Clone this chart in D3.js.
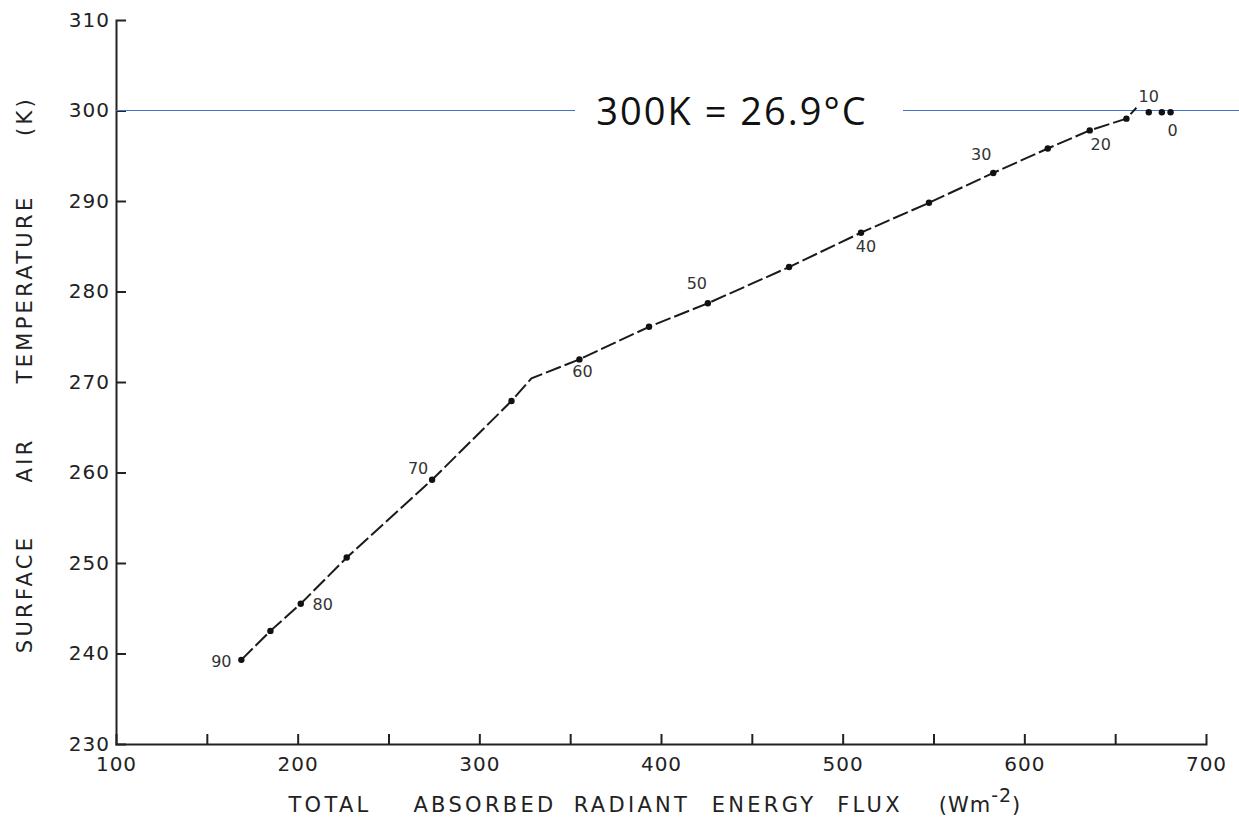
<!DOCTYPE html>
<html>
<head>
<meta charset="utf-8">
<script src="https://cdn.jsdelivr.net/npm/d3@7"></script>
<style>
  body { margin: 0; background: #fff; }
  .old { font-family: "DejaVu Sans", sans-serif; fill: #222; }
</style>
</head>
<body>
<div id="chart"></div>
<script>
// Energy flux (W m-2) and surface air temperature (K)
const curveFlux = [169, 185, 201.7, 227, 274, 317.7, 328.7, 355.1, 393.4, 425.8, 470.5, 510.1, 547.5, 582.9, 612.9, 636, 656.2, 661.7];
const curveTemp = [239.3, 242.5, 245.5, 250.6, 259.2, 267.9, 270.4, 272.5, 276.1, 278.7, 282.7, 286.5, 289.8, 293.1, 295.8, 297.8, 299.1, 300.3];

// Marked points (every 5 degrees latitude)
const pointFlux = [169, 185, 201.7, 227, 274, 317.7, 355.1, 393.4, 425.8, 470.5, 510.1, 547.5, 582.9, 612.9, 636, 656.2, 668.5, 675.7, 680.5];
const pointTemp = [239.3, 242.5, 245.5, 250.6, 259.2, 267.9, 272.5, 276.1, 278.7, 282.7, 286.5, 289.8, 293.1, 295.8, 297.8, 299.1, 299.8, 299.8, 299.8];

// Latitude labels and the point each belongs to
const latLabels = ["90", "80", "70", "60", "50", "40", "30", "20", "10", "0"];
const latFlux = [169, 201.7, 274, 355.1, 425.8, 510.1, 582.9, 636, 668.5, 680.5];
const latTemp = [239.3, 245.5, 259.2, 272.5, 278.7, 286.5, 293.1, 297.8, 299.8, 299.8];

const xTicks = [100, 150, 200, 250, 300, 350, 400, 450, 500, 550, 600, 650, 700];
const yTicks = [230, 240, 250, 260, 270, 280, 290, 300, 310];
const yTitleWords = ["SURFACE", "AIR", "TEMPERATURE", "(K)"];
const xTitleWords = ["TOTAL", "ABSORBED", "RADIANT", "ENERGY", "FLUX"];
const refTemp = 300;
const refText = "300K = 26.9°C";

const width = 1239, height = 823;

const svg = d3.select("#chart").append("svg")
    .attr("width", width)
    .attr("height", height);

const x = d3.scaleLinear().domain([100, 700]).range([116, 1206]);
const y = d3.scaleLinear().domain([230, 310]).range([744, 20]);

// x axis, ticks point up into the plot
const xAxis = svg.append("g")
    .attr("transform", `translate(0,${y(230)})`)
    .call(d3.axisBottom(x).tickValues(xTicks).tickSize(-10).tickPadding(10)
        .tickFormat(d => d % 100 === 0 ? d : ""));
xAxis.select(".domain").attr("stroke", "#222").attr("stroke-width", 2);
xAxis.selectAll(".tick line").attr("stroke", "#222").attr("stroke-width", 2)
    .style("display", d => (d === 100 || d === 700) ? "none" : null);
xAxis.selectAll(".tick text").attr("class", "old")
    .style("font-size", "20px").style("letter-spacing", "1px").attr("dy", "0.85em");

// y axis, ticks point right into the plot
const yAxis = svg.append("g")
    .attr("transform", `translate(${x(100)},0)`)
    .call(d3.axisLeft(y).tickValues(yTicks).tickSize(-10).tickPadding(6));
yAxis.select(".domain").attr("stroke", "#222").attr("stroke-width", 2);
yAxis.selectAll(".tick line").attr("stroke", "#222").attr("stroke-width", 2)
    .style("display", d => (d === 230 || d === 310) ? "none" : null);
yAxis.selectAll(".tick text").attr("class", "old")
    .style("font-size", "20px").style("letter-spacing", "1px");

// axis titles, words spread out like the original lettering
const xWordPos = [330, 485, 632, 764, 870];
svg.selectAll(".xword")
    .data(xTitleWords)
    .enter().append("text")
    .attr("class", "old xword")
    .attr("x", (d, i) => xWordPos[i])
    .attr("y", 812)
    .attr("text-anchor", "middle")
    .style("font-size", "21px")
    .style("letter-spacing", "3.3px")
    .text(d => d);
svg.append("text")
    .attr("class", "old")
    .attr("x", 980).attr("y", 812)
    .attr("text-anchor", "middle")
    .style("font-size", "21px")
    .style("letter-spacing", "1px")
    .html('(Wm<tspan dy="-10" font-size="19">-2</tspan><tspan dy="10">)</tspan>');

const yWordPos = [594, 460, 289, 116];
svg.selectAll(".yword")
    .data(yTitleWords)
    .enter().append("text")
    .attr("class", "old yword")
    .attr("transform", (d, i) => `translate(32,${yWordPos[i]}) rotate(-90)`)
    .attr("text-anchor", "middle")
    .style("font-size", "21px")
    .style("letter-spacing", "3.3px")
    .text(d => d);

// 300 K reference line with a gap for the note
const refY = y(refTemp);
svg.append("line")
    .attr("x1", x(100)).attr("x2", 575)
    .attr("y1", refY).attr("y2", refY)
    .attr("stroke", "#4472c4").attr("stroke-width", 1.2);
svg.append("line")
    .attr("x1", 903).attr("x2", width)
    .attr("y1", refY).attr("y2", refY)
    .attr("stroke", "#4472c4").attr("stroke-width", 1.2);
svg.append("text")
    .attr("x", 732).attr("y", refY + 14)
    .attr("text-anchor", "middle")
    .style("font-family", "'Open Sans', sans-serif")
    .style("font-size", "38px")
    .style("letter-spacing", "2px")
    .style("fill", "#111")
    .text(refText);

// the curve
const line = d3.line().x(d => x(d[0])).y(d => y(d[1]));
svg.append("path")
    .datum(curveFlux.map((f, i) => [f, curveTemp[i]]))
    .attr("d", line)
    .attr("fill", "none")
    .attr("stroke", "#1a1a1a")
    .attr("stroke-width", 2)
    .attr("stroke-dasharray", "16,4");

svg.selectAll(".pt")
    .data(pointFlux.map((f, i) => [f, pointTemp[i]]))
    .enter().append("circle")
    .attr("class", "pt")
    .attr("cx", d => x(d[0]))
    .attr("cy", d => y(d[1]))
    .attr("r", 3.2)
    .attr("fill", "#111");

// latitude labels, placed around their points
const labelOffset = {
    "90": [-20, 7], "80": [22, 6], "70": [-14, -6], "60": [3, 18], "50": [-11, -14],
    "40": [5, 19], "30": [-12, -13], "20": [11, 20], "10": [0, -10], "0": [2, 24]
};
svg.selectAll(".lat")
    .data(latLabels)
    .enter().append("text")
    .attr("class", "old lat")
    .attr("x", (d, i) => x(latFlux[i]) + labelOffset[d][0])
    .attr("y", (d, i) => y(latTemp[i]) + labelOffset[d][1])
    .attr("text-anchor", "middle")
    .style("font-size", "16px")
    .style("fill", "#333")
    .text(d => d);
</script>
</body>
</html>
